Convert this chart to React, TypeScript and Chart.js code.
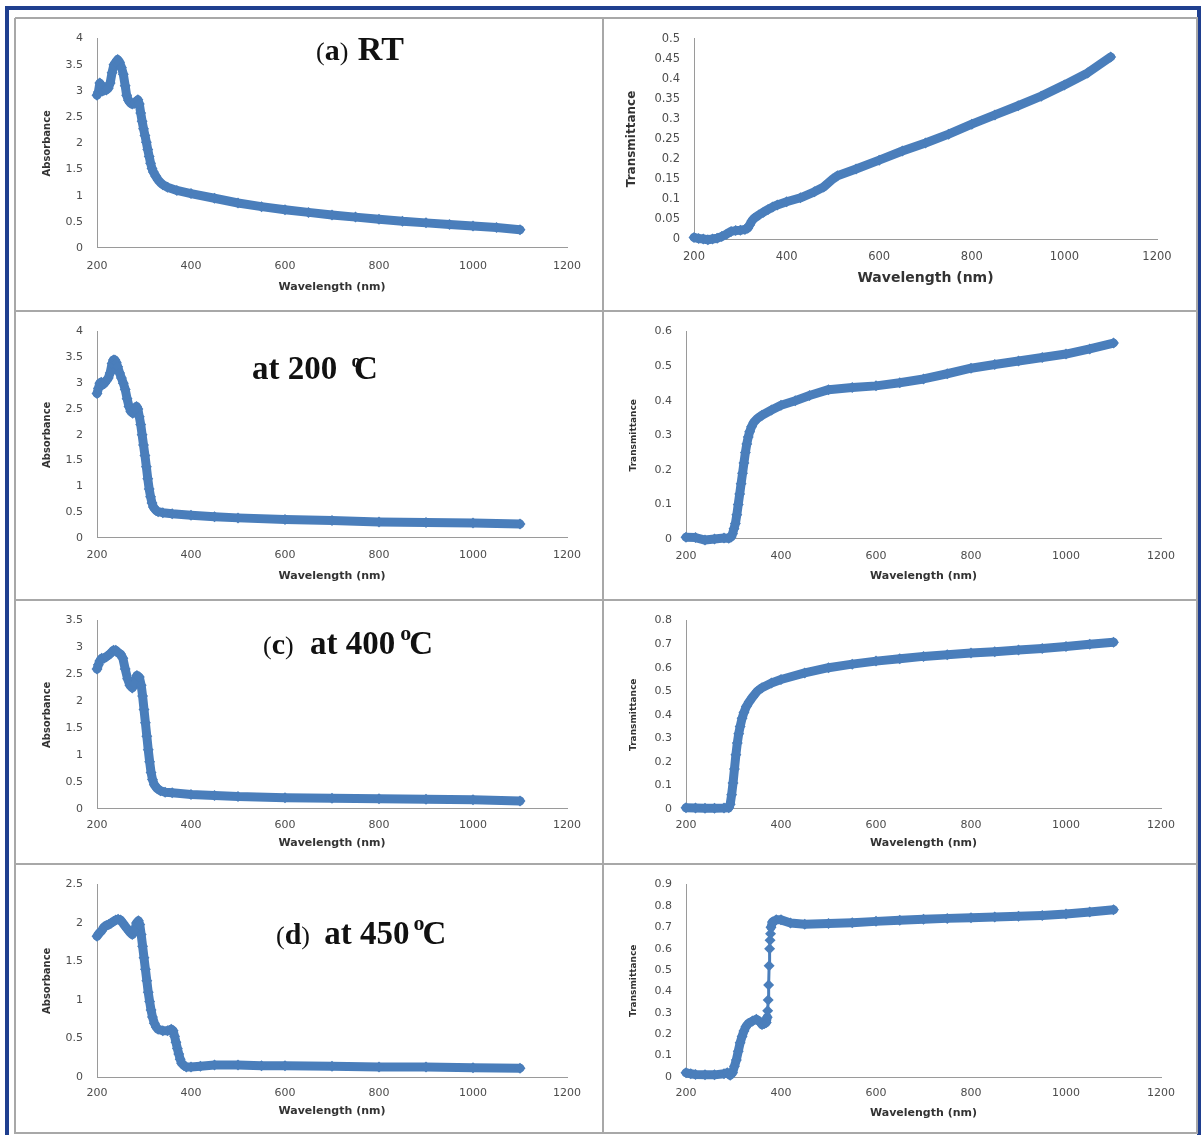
import React, { useEffect, useRef } from 'react';
import { Chart, registerables } from 'chart.js';

Chart.register(...registerables);

// ---------------- data (wavelength in nm) ----------------
const rtAbsWl = [200, 203, 206, 209, 212, 216, 220, 224, 228, 232, 236, 240, 244, 248, 252, 256, 260, 263, 267, 271, 275, 279, 283, 287, 290, 293, 296, 299, 302, 305, 308, 311, 314, 317, 320, 325, 330, 335, 340, 350, 370, 400, 450, 500, 550, 600, 650, 700, 750, 800, 850, 900, 950, 1000, 1050, 1100];
const rtAbs = [2.92, 2.98, 3.15, 3.1, 3.0, 3.02, 3.02, 3.05, 3.15, 3.35, 3.5, 3.55, 3.6, 3.55, 3.45, 3.32, 3.1, 2.92, 2.82, 2.77, 2.75, 2.76, 2.8, 2.83, 2.75, 2.58, 2.42, 2.28, 2.15, 2.02, 1.88, 1.75, 1.62, 1.52, 1.45, 1.37, 1.3, 1.25, 1.21, 1.16, 1.1, 1.04, 0.95, 0.86, 0.79, 0.73, 0.68, 0.63, 0.59, 0.55, 0.51, 0.48, 0.45, 0.42, 0.39, 0.35];

const rtTrWl = [200, 210, 220, 230, 240, 250, 260, 270, 280, 290, 300, 310, 316, 320, 325, 330, 340, 350, 360, 370, 380, 400, 430, 460, 480, 500, 510, 550, 600, 650, 700, 750, 800, 850, 900, 950, 1000, 1050, 1100];
const rtTr = [0.004, 0.001, 0.0, -0.002, 0.0, 0.002, 0.006, 0.012, 0.019, 0.021, 0.022, 0.024, 0.027, 0.035, 0.045, 0.052, 0.06, 0.067, 0.074, 0.08, 0.085, 0.093, 0.103, 0.118, 0.13, 0.15, 0.158, 0.175, 0.197, 0.22, 0.24, 0.262, 0.287, 0.31, 0.333, 0.357, 0.385, 0.415, 0.455];

const abs200Wl = [200, 203, 206, 209, 212, 216, 220, 224, 228, 232, 235, 238, 241, 244, 248, 252, 256, 260, 264, 268, 272, 276, 280, 284, 287, 290, 293, 296, 299, 302, 305, 308, 311, 314, 317, 320, 325, 330, 340, 360, 400, 450, 500, 600, 700, 800, 900, 1000, 1100];
const abs200 = [2.8, 2.9, 3.0, 3.02, 2.97, 3.0, 3.05, 3.1, 3.2, 3.38, 3.45, 3.45, 3.4, 3.32, 3.2, 3.1, 3.0, 2.88, 2.7, 2.55, 2.45, 2.42, 2.5, 2.55, 2.5, 2.35, 2.2, 2.0, 1.8, 1.6, 1.38, 1.15, 0.95, 0.8, 0.68, 0.6, 0.54, 0.51, 0.49, 0.47, 0.44, 0.41, 0.39, 0.36, 0.34, 0.31, 0.3, 0.29, 0.27];

const tr200Wl = [200, 220, 240, 260, 280, 290, 295, 298, 301, 304, 307, 310, 313, 316, 319, 322, 325, 328, 331, 334, 338, 343, 350, 360, 380, 400, 430, 460, 500, 550, 600, 650, 700, 750, 800, 850, 900, 950, 1000, 1050, 1100];
const tr200 = [0.005, 0.004, -0.003, 0.0, 0.003, 0.002, 0.006, 0.015, 0.03, 0.045, 0.07, 0.1, 0.13, 0.16, 0.19, 0.22, 0.25, 0.275, 0.295, 0.31, 0.325, 0.338, 0.348, 0.358, 0.373, 0.387, 0.4, 0.415, 0.432, 0.438, 0.443, 0.452, 0.463, 0.478, 0.494, 0.505, 0.515, 0.525, 0.535, 0.55, 0.567];

const abs400Wl = [200, 203, 206, 210, 215, 220, 225, 230, 235, 240, 245, 250, 255, 260, 265, 270, 275, 280, 285, 290, 294, 297, 300, 303, 306, 309, 312, 315, 318, 322, 328, 335, 345, 360, 400, 450, 500, 600, 700, 800, 900, 1000, 1100];
const abs400 = [2.6, 2.68, 2.75, 2.8, 2.8, 2.83, 2.86, 2.9, 2.95, 2.95, 2.9, 2.88, 2.8, 2.6, 2.42, 2.3, 2.25, 2.33, 2.48, 2.45, 2.3, 2.1, 1.85, 1.6, 1.35, 1.1, 0.88, 0.68, 0.55, 0.45, 0.38, 0.34, 0.31, 0.3, 0.27, 0.25, 0.23, 0.21, 0.2, 0.19, 0.18, 0.17, 0.15];

const tr400Wl = [200, 220, 240, 260, 280, 290, 293, 296, 299, 302, 305, 308, 311, 314, 318, 322, 327, 333, 340, 350, 360, 380, 400, 450, 500, 550, 600, 650, 700, 750, 800, 850, 900, 950, 1000, 1050, 1100];
const tr400 = [0.005, 0.004, 0.003, 0.003, 0.004, 0.005, 0.02, 0.06, 0.11, 0.17, 0.23, 0.28, 0.32, 0.35, 0.385, 0.41, 0.435, 0.455, 0.475, 0.5, 0.515, 0.535, 0.55, 0.578, 0.6, 0.615, 0.628, 0.638, 0.648, 0.655, 0.662, 0.668, 0.675, 0.682, 0.69, 0.7, 0.708];

const abs450Wl = [200, 205, 210, 215, 220, 225, 230, 235, 240, 245, 250, 255, 260, 265, 270, 275, 280, 284, 288, 291, 294, 297, 300, 303, 306, 309, 312, 315, 318, 322, 326, 330, 340, 350, 358, 362, 365, 368, 371, 374, 377, 380, 385, 390, 400, 420, 450, 500, 550, 600, 700, 800, 900, 1000, 1100];
const abs450 = [1.83, 1.87, 1.9, 1.95, 1.97, 1.98, 2.0, 2.02, 2.04, 2.05, 2.04, 2.0, 1.96, 1.92, 1.88, 1.85, 1.9, 2.0, 2.03, 1.98, 1.85, 1.7, 1.55, 1.4, 1.25, 1.1, 0.98, 0.87, 0.78, 0.7, 0.65, 0.62, 0.6, 0.6, 0.62, 0.6, 0.53, 0.45, 0.37, 0.3, 0.23, 0.18, 0.15, 0.13, 0.13, 0.14, 0.155, 0.155, 0.145, 0.145, 0.14, 0.13, 0.13, 0.12, 0.115];

const tr450Wl = [200, 210, 220, 240, 260, 280, 287, 293, 298, 302, 306, 310, 314, 318, 322, 326, 331, 340, 348, 355, 360, 365, 369, 371, 372, 373, 374, 375, 376, 377, 378, 379, 382, 390, 400, 420, 450, 500, 550, 600, 650, 700, 750, 800, 850, 900, 950, 1000, 1050, 1100];
const tr450 = [0.02, 0.015, 0.012, 0.01, 0.01, 0.015, 0.02, 0.008, 0.02, 0.05, 0.08, 0.12, 0.16, 0.19, 0.215, 0.235, 0.25, 0.262, 0.27, 0.26, 0.245, 0.25, 0.255, 0.28, 0.31, 0.36, 0.43, 0.52, 0.6, 0.64, 0.67, 0.7, 0.725, 0.735, 0.735, 0.72, 0.715, 0.718, 0.722, 0.728, 0.733, 0.738, 0.742, 0.745, 0.748, 0.752, 0.756, 0.762, 0.772, 0.782];

// ---------------- styling ----------------
const BLUE = '#4a7ebb';
const AXIS = '#9a9a9a';
const TICK = '#4d4d4d';
const TITLE = '#333333';
const SANS = '"DejaVu Sans", "Noto Sans", sans-serif';
const SERIF = '"Liberation Serif", "Times New Roman", serif';

type Cfg = {
  x: number; y: number; w: number; h: number;
  L: number; T: number; R: number; B: number;
  yMax: number; yStep: number; yTitle: string; yTitleX: number; yTitleSize: number;
  xTitleY: number; xTitleSize: number; tickSize: number; xTickPad: number;
  wl: number[]; vals: number[];
};

const LX = 15, LW = 588, RX = 603, RW = 594;

const panels: Cfg[] = [
  { x: LX, y: 18, w: LW, h: 293, L: 97, T: 33, R: 567, B: 248, yMax: 4, yStep: 0.5, yTitle: 'Absorbance', yTitleX: 47, yTitleSize: 10, xTitleY: 287, xTitleSize: 11, tickSize: 11, xTickPad: 12, wl: rtAbsWl, vals: rtAbs },
  { x: RX, y: 18, w: RW, h: 293, L: 694, T: 28, R: 1157, B: 239, yMax: 0.5, yStep: 0.05, yTitle: 'Transmittance', yTitleX: 632, yTitleSize: 12, xTitleY: 278, xTitleSize: 14, tickSize: 11.5, xTickPad: 11, wl: rtTrWl, vals: rtTr },
  { x: LX, y: 311, w: LW, h: 289, L: 97, T: 328, R: 567, B: 538, yMax: 4, yStep: 0.5, yTitle: 'Absorbance', yTitleX: 47, yTitleSize: 10, xTitleY: 576, xTitleSize: 11, tickSize: 11, xTickPad: 11, wl: abs200Wl, vals: abs200 },
  { x: RX, y: 311, w: RW, h: 289, L: 686, T: 328, R: 1161, B: 539, yMax: 0.6, yStep: 0.1, yTitle: 'Transmittance', yTitleX: 634, yTitleSize: 9, xTitleY: 576, xTitleSize: 11, tickSize: 11, xTickPad: 11, wl: tr200Wl, vals: tr200 },
  { x: LX, y: 600, w: LW, h: 264, L: 97, T: 614, R: 567, B: 809, yMax: 3.5, yStep: 0.5, yTitle: 'Absorbance', yTitleX: 47, yTitleSize: 10, xTitleY: 843, xTitleSize: 11, tickSize: 11, xTickPad: 10, wl: abs400Wl, vals: abs400 },
  { x: RX, y: 600, w: RW, h: 264, L: 686, T: 614, R: 1161, B: 809, yMax: 0.8, yStep: 0.1, yTitle: 'Transmittance', yTitleX: 634, yTitleSize: 9, xTitleY: 843, xTitleSize: 11, tickSize: 11, xTickPad: 10, wl: tr400Wl, vals: tr400 },
  { x: LX, y: 864, w: LW, h: 269, L: 97, T: 880, R: 567, B: 1077, yMax: 2.5, yStep: 0.5, yTitle: 'Absorbance', yTitleX: 47, yTitleSize: 10, xTitleY: 1111, xTitleSize: 11, tickSize: 11, xTickPad: 10, wl: abs450Wl, vals: abs450 },
  { x: RX, y: 864, w: RW, h: 269, L: 686, T: 880, R: 1161, B: 1077, yMax: 0.9, yStep: 0.1, yTitle: 'Transmittance', yTitleX: 634, yTitleSize: 9, xTitleY: 1113, xTitleSize: 11, tickSize: 11, xTickPad: 10, wl: tr450Wl, vals: tr450 },
];

function ChartPanel({ cfg }: { cfg: Cfg }) {
  const ref = useRef<HTMLCanvasElement | null>(null);
  useEffect(() => {
    if (!ref.current) return;
    const c = cfg;
    const lhY = c.yTitleSize * 1.2;
    const lhX = c.xTitleSize * 1.2;
    const padLeft = c.yTitleX - c.x - lhY / 2;
    const yAxisW = c.L - c.x - padLeft;
    const padTop = c.T - c.y;
    const padRight = c.x + c.w - c.R;
    const padBottom = c.y + c.h - c.xTitleY - lhX / 2;
    const xAxisH = c.y + c.h - padBottom - c.B;
    const points = c.wl.map((w, i) => ({ x: w, y: c.vals[i] }));
    const chart = new Chart(ref.current, {
      type: 'line',
      data: {
        datasets: [
          {
            data: points,
            borderColor: BLUE,
            backgroundColor: BLUE,
            pointBackgroundColor: BLUE,
            pointBorderWidth: 0,
            pointRadius: 5.5,
            pointStyle: 'rectRot',
            borderWidth: 9,
            borderJoinStyle: 'round',
            borderCapStyle: 'round',
            tension: 0,
            clip: false,
            segment: {
              borderWidth: (ctx: any) => (c.wl[ctx.p1DataIndex] - c.wl[ctx.p0DataIndex] <= 1 ? 3 : 9),
            },
          } as any,
        ],
      },
      options: {
        responsive: false,
        animation: false,
        devicePixelRatio: 1,
        events: [],
        layout: { padding: { left: padLeft, right: padRight, top: padTop, bottom: padBottom } },
        plugins: { legend: { display: false }, tooltip: { enabled: false } },
        scales: {
          x: {
            type: 'linear',
            min: 200,
            max: 1200,
            grid: { display: false, drawTicks: false },
            border: { display: true, color: AXIS, width: 1 },
            ticks: {
              stepSize: 200,
              autoSkip: false,
              maxRotation: 0,
              padding: c.xTickPad,
              color: TICK,
              font: { family: SANS, size: c.tickSize },
              callback: (v: any) => String(Math.round(Number(v))),
            },
            title: { display: true, text: 'Wavelength (nm)', color: TITLE, padding: 0, font: { family: SANS, size: c.xTitleSize, weight: 'bold' } },
            afterFit: (s: any) => { s.height = xAxisH; },
          },
          y: {
            type: 'linear',
            min: 0,
            max: c.yMax,
            grid: { display: false, drawTicks: false },
            border: { display: true, color: AXIS, width: 1 },
            ticks: {
              stepSize: c.yStep,
              autoSkip: false,
              padding: 14,
              color: TICK,
              font: { family: SANS, size: c.tickSize },
              callback: (v: any) => String(Number(Number(v).toFixed(2))),
            },
            title: { display: true, text: c.yTitle, color: TITLE, padding: 0, font: { family: SANS, size: c.yTitleSize, weight: 'bold' } },
            afterFit: (s: any) => { s.width = yAxisW; },
          },
        },
      } as any,
    });
    return () => chart.destroy();
  }, [cfg]);
  return (
    <canvas
      ref={ref}
      width={cfg.w}
      height={cfg.h}
      style={{ position: 'absolute', left: cfg.x, top: cfg.y, width: cfg.w, height: cfg.h }}
    />
  );
}

const paren = { fontSize: 26, fontWeight: 'normal' as const };
const letter = { fontSize: 30, fontWeight: 'bold' as const };

function Title({ left, baseline, size, children }: { left: number; baseline: number; size: number; children: React.ReactNode }) {
  return (
    <div
      style={{
        position: 'absolute',
        left,
        top: baseline - 0.8375 * size,
        fontFamily: SERIF,
        fontWeight: 'bold',
        fontSize: size,
        lineHeight: 1,
        color: '#111',
        whiteSpace: 'nowrap',
      }}
    >
      {children}
    </div>
  );
}

function Deg({ size, up, ml, mr }: { size: number; up: number; ml: number; mr: number }) {
  return (
    <span style={{ fontSize: size, position: 'relative', top: -up, marginLeft: ml, marginRight: mr }}>o</span>
  );
}

export default function App() {
  const hLines = [18, 311, 600, 864, 1133];
  const vLines = [15, 603, 1197];
  return (
    <div style={{ position: 'absolute', left: 0, top: 0, width: 1201, height: 1135, overflow: 'hidden', background: '#ffffff' }}>
      <div style={{ position: 'absolute', left: 5, top: 6, width: 1196, height: 1140, border: '4px solid #1f3f8f', boxSizing: 'border-box' }} />
      {hLines.map((y) => (
        <div key={'h' + y} style={{ position: 'absolute', left: 15, top: y - 1, width: 1183, height: 2, background: '#a8a8a8' }} />
      ))}
      {vLines.map((x) => (
        <div key={'v' + x} style={{ position: 'absolute', left: x - 1, top: 18, width: 2, height: 1116, background: '#a8a8a8' }} />
      ))}
      {panels.map((p, i) => (
        <ChartPanel key={i} cfg={p} />
      ))}
      <Title left={316} baseline={60} size={34}>
        <span style={paren}>(</span><span style={letter}>a</span><span style={paren}>)</span>
        <span style={{ marginLeft: 1 }}> RT</span>
      </Title>
      <Title left={252} baseline={380} size={33}>
        at 200 <Deg size={19} up={12} ml={6} mr={-7} />C
      </Title>
      <Title left={263} baseline={655} size={33}>
        <span style={paren}>(</span><span style={letter}>c</span><span style={paren}>)</span>
        <span style={{ marginLeft: 8 }}> at 400</span><Deg size={22} up={14} ml={5} mr={-2} />C
      </Title>
      <Title left={276} baseline={945} size={33}>
        <span style={paren}>(</span><span style={letter}>d</span><span style={paren}>)</span>
        <span style={{ marginLeft: 6 }}> at 450</span><Deg size={22} up={14} ml={4} mr={-2} />C
      </Title>
    </div>
  );
}
